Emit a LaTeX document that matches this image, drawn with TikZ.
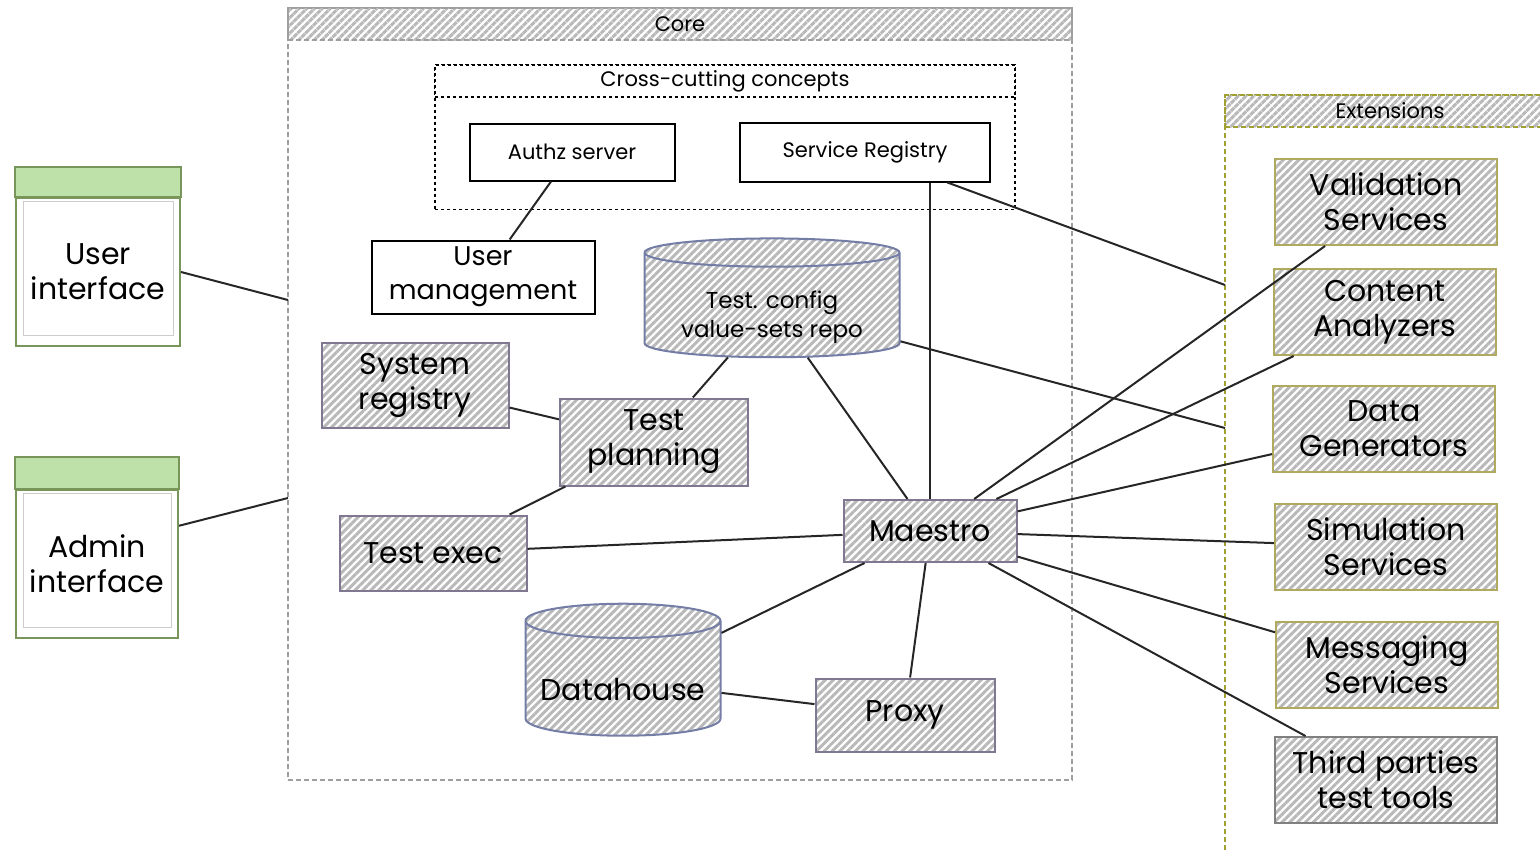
\documentclass[tikz,border=0pt]{standalone}
\usepackage{fontspec}
\setmainfont{Poppins}
\usetikzlibrary{patterns.meta,shapes.geometric}

\definecolor{frameolive}{RGB}{160,160,50}
\definecolor{extborder}{RGB}{175,170,95}
\definecolor{coreborder}{RGB}{128,120,145}
\definecolor{dbborder}{RGB}{115,125,165}
\definecolor{uigreen}{RGB}{120,150,90}
\definecolor{uihead}{RGB}{190,225,170}

\tikzstyle{hatch}=[pattern={Lines[angle=45,distance=5.5pt,line width=3pt]},pattern color=gray!55]
\tikzstyle{bigtext}=[font=\fontsize{30}{35}\selectfont, align=center]
\tikzstyle{plainbox}=[draw=black, line width=2pt, fill=white, font=\fontsize{21}{25}\selectfont]
\tikzstyle{corebox}=[draw=coreborder, line width=2pt, hatch, bigtext]
\tikzstyle{extbox}=[draw=extborder, line width=2pt, hatch, bigtext, minimum width=222, minimum height=86]
\tikzstyle{dbnode}=[cylinder, shape border rotate=90, draw=dbborder, line width=2pt, hatch, align=center]
\tikzstyle{uibox}=[draw=uigreen, line width=2pt, fill=white, bigtext]
\tikzstyle{link}=[line width=2pt, black!85]
\tikzstyle{header}=[font=\fontsize{21}{25}\selectfont]

\begin{document}
\begin{tikzpicture}[x=1pt,y=-1pt]
\useasboundingbox (0,0) rectangle (1540,852);
\clip (0,0) rectangle (1540,852);

% containers
\node[draw=gray!75, line width=1.8pt, dash pattern=on 5pt off 3pt, minimum width=784, minimum height=772] (core) at (680,394) {};
\node[draw=gray!75, line width=1.8pt, dash pattern=on 5pt off 3pt, hatch, header, minimum width=784, minimum height=32] (corehead) at (680,24) {Core};
\node[draw=black, line width=1.5pt, dashed, minimum width=580, minimum height=145] (cross) at (725,137) {};
\node[draw=black, line width=1.5pt, dashed, fill=white, header, minimum width=580, minimum height=32] (crosshead) at (725,81) {Cross-cutting concepts};
\node[draw=frameolive, line width=1.8pt, dash pattern=on 5pt off 3pt, minimum width=330, minimum height=790] (ext) at (1390,490) {};
\node[draw=frameolive, line width=1.8pt, dash pattern=on 5pt off 3pt, hatch, header, minimum width=330, minimum height=32] (exthead) at (1390,111) {Extensions};

% clients
\node[uibox, minimum width=164, minimum height=148] (ui) at (98,272) {User\\interface};
\fill[uihead, draw=uigreen, line width=2pt] ([yshift=30pt]ui.north west) rectangle (ui.north east);
\draw[gray!40, line width=0.8pt] ([shift={(8pt,-4pt)}]ui.north west) rectangle ([shift={(-8pt,12pt)}]ui.south east);
\node[uibox, minimum width=162, minimum height=148] (admin) at (97,564) {Admin\\interface};
\fill[uihead, draw=uigreen, line width=2pt] ([yshift=32pt]admin.north west) rectangle (admin.north east);
\draw[gray!40, line width=0.8pt] ([shift={(8pt,-4pt)}]admin.north west) rectangle ([shift={(-8pt,12pt)}]admin.south east);

% core services
\node[plainbox, minimum width=205, minimum height=57] (authz) at (572,152) {Authz server};
\node[plainbox, minimum width=250, minimum height=59] (sreg) at (865,152) {Service Registry};
\node[plainbox, font=\fontsize{27}{34}\selectfont, align=center, minimum width=223, minimum height=73] (umgmt) at (483,277) {User\\management};
\node[dbnode, aspect=0.15, minimum width=255, minimum height=117, font=\fontsize{23}{29}\selectfont] (repo) at (772,307) {\rule{0pt}{37pt}Test. config\\value-sets repo};
\node[corebox, minimum width=187, minimum height=85] (sysreg) at (415,385) {System\\registry};
\node[corebox, minimum width=188, minimum height=87] (tplan) at (654,442) {Test\\planning};
\node[corebox, minimum width=187, minimum height=75] (texec) at (433,553) {Test exec};
\node[corebox, minimum width=173, minimum height=62] (maestro) at (930,531) {Maestro};
\node[dbnode, aspect=0.2, minimum width=195, minimum height=132, bigtext] (dhouse) at (623,681) {\rule{0pt}{40pt}Datahouse};
\node[corebox, minimum width=179, minimum height=73] (proxy) at (905,715) {Proxy};

% extensions
\node[extbox] (valid) at (1386,202) {Validation\\Services};
\node[extbox] (canal) at (1385,312) {Content\\Analyzers};
\node[extbox] (dgen) at (1384,429) {Data\\Generators};
\node[extbox] (simul) at (1386,547) {Simulation\\Services};
\node[extbox] (msg) at (1387,665) {Messaging\\Services};
\node[extbox, draw=gray] (third) at (1386,780) {Third parties\\test tools};

\coordinate (coreui) at (288,300);
\coordinate (coreadm) at (288,498);
\coordinate (extsreg) at (1225,285);
\coordinate (extrepo) at (1225,428);

% connectors
\draw[link] (ui.east) -- (coreui);
\draw[link] (admin.25) -- (coreadm);
\draw[link] (authz) -- (umgmt);
\draw[link] (maestro.north) -- (maestro.north |- sreg.south);
\draw[link] (sreg) -- (extsreg);
\draw[link] (repo) -- (extrepo);
\draw[link] (repo) -- (tplan);
\draw[link] (repo) -- (maestro);
\draw[link] (sysreg) -- (tplan);
\draw[link] (tplan) -- (texec);
\draw[link] (texec) -- (maestro);
\draw[link] (maestro) -- (dhouse);
\draw[link] (dhouse) -- (proxy);
\draw[link] (maestro) -- (proxy);
\draw[link] (maestro) -- (valid);
\draw[link] (maestro) -- (canal);
\draw[link] (maestro) -- (dgen);
\draw[link] (maestro) -- (simul);
\draw[link] (maestro) -- (msg);
\draw[link] (maestro) -- (third);
\end{tikzpicture}
\end{document}
